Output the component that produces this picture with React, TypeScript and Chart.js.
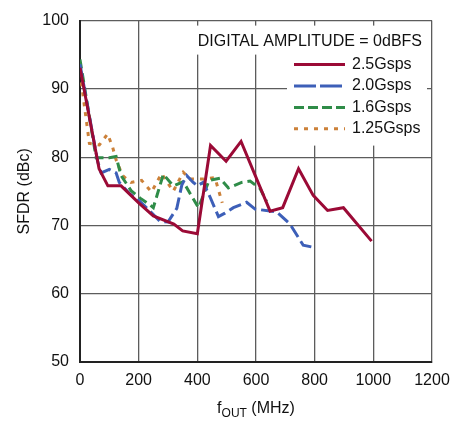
import React, { useEffect, useRef } from "react";
import { Chart, registerables } from "chart.js";

Chart.register(...registerables);

// ---- data ----
const seriesLabels = ["2.5Gsps", "2.0Gsps", "1.6Gsps", "1.25Gsps"];
const legendTitle = "DIGITAL AMPLITUDE = 0dBFS";

const fout25 = [0, 65, 95, 140, 200, 250, 320, 350, 400, 445, 498, 549, 648, 691, 745, 795, 844, 898, 994];
const sfdr25 = [93.1, 78.3, 75.8, 75.8, 73.3, 71.4, 70.2, 69.2, 68.8, 81.7, 79.4, 82.3, 72.1, 72.6, 78.3, 74.4, 72.2, 72.6, 67.7];

const fout20 = [0, 60, 72, 100, 123, 134, 168, 205, 250, 273, 300, 330, 347, 364, 386, 400, 420, 443, 472, 494, 523, 568, 597, 648, 670, 716, 761, 795];
const sfdr20 = [93.6, 79.4, 77.7, 78.2, 77.7, 76.3, 74.7, 73.5, 71.6, 70.6, 70.5, 72.5, 75.9, 77.3, 76.3, 75.8, 76.3, 74.2, 71.3, 71.8, 72.6, 73.4, 72.4, 72.1, 72.0, 70.2, 67.1, 66.8];

const fout16 = [0, 55, 100, 123, 140, 174, 205, 239, 250, 284, 318, 352, 404, 440, 477, 506, 551, 580, 614, 636];
const sfdr16 = [94.3, 79.9, 79.9, 80.1, 77.3, 75.1, 74.0, 73.0, 72.6, 77.5, 75.8, 76.4, 72.6, 76.6, 76.9, 75.5, 76.3, 76.5, 75.4, 73.5];

const fout125 = [0, 32, 66, 94, 111, 123, 145, 174, 210, 244, 278, 318, 352, 375, 420, 460, 485];
const sfdr125 = [92.4, 82.0, 81.8, 83.4, 81.5, 79.6, 77.3, 76.3, 76.6, 74.9, 77.6, 75.0, 77.8, 76.8, 76.8, 77.0, 73.3];

const xTicks = [0, 200, 400, 600, 800, 1000, 1200];
const yTicks = [50, 60, 70, 80, 90, 100];

const yTitle = "SFDR (dBc)";
const xTitleMain = "f";
const xTitleSub = "OUT";
const xTitleRest = " (MHz)";

// ---- styles ----
const colors = ["#9b0a36", "#3d5fb8", "#2f8c48", "#cc8139"];
const dashes: number[][] = [[], [13, 5], [9, 5], [4, 6]];
const legendDashes: number[][] = [[], [22, 4], [10, 4], [4, 6]];
const FONT = "'Liberation Sans', Arial, sans-serif";
const FS = 16;

const toPts = (xs: number[], ys: number[]) => xs.map((x, i) => ({ x, y: ys[i] }));

const overlayPlugin = {
  id: "overlay",
  beforeDatasetsDraw(chart: any) {
    const { ctx, chartArea } = chart;
    const r = chartArea.right;
    const t = chartArea.top;
    ctx.save();
    ctx.fillStyle = "#ffffff";
    ctx.fillRect(r - 240, t + 5, 235, 29);
    ctx.fillRect(r - 145, t + 33, 140, 92);
    ctx.fillStyle = "#111";
    ctx.font = `${FS}px ${FONT}`;
    ctx.textBaseline = "middle";
    ctx.textAlign = "right";
    ctx.fillText(legendTitle, r - 10, t + 21);
    const ds = chart.data.datasets;
    ds.forEach((d: any, i: number) => {
      const y = t + 44 + i * 21.4;
      ctx.strokeStyle = d.borderColor;
      ctx.lineWidth = 3;
      ctx.setLineDash(legendDashes[i]);
      ctx.beginPath();
      ctx.moveTo(r - 138, y);
      ctx.lineTo(r - 87, y);
      ctx.stroke();
      ctx.setLineDash([]);
      ctx.textAlign = "left";
      ctx.fillStyle = "#111";
      ctx.fillText(d.label, r - 80, y);
    });
    ctx.restore();
  },
  afterDraw(chart: any) {
    const { ctx, chartArea } = chart;
    ctx.save();
    ctx.fillStyle = "#111";
    ctx.textBaseline = "alphabetic";
    ctx.textAlign = "left";
    ctx.font = `${FS}px ${FONT}`;
    const w1 = ctx.measureText(xTitleMain).width;
    const w3 = ctx.measureText(xTitleRest).width;
    ctx.font = `12px ${FONT}`;
    const w2 = ctx.measureText(xTitleSub).width;
    const cx = (chartArea.left + chartArea.right) / 2;
    let x = cx - (w1 + w2 + w3) / 2;
    const base = chartArea.bottom + 51;
    ctx.font = `${FS}px ${FONT}`;
    ctx.fillText(xTitleMain, x, base);
    x += w1;
    ctx.font = `12px ${FONT}`;
    ctx.fillText(xTitleSub, x, base + 4);
    x += w2;
    ctx.font = `${FS}px ${FONT}`;
    ctx.fillText(xTitleRest, x, base);
    ctx.restore();
  },
};

export default function App() {
  const ref = useRef<HTMLCanvasElement | null>(null);
  useEffect(() => {
    if (!ref.current) return;
    const seriesX = [fout25, fout20, fout16, fout125];
    const seriesY = [sfdr25, sfdr20, sfdr16, sfdr125];
    const chart = new Chart(ref.current, {
      type: "line",
      data: {
        datasets: seriesLabels.map((label, i) => ({
          label,
          data: toPts(seriesX[i], seriesY[i]),
          borderColor: colors[i],
          backgroundColor: colors[i],
          borderWidth: 3,
          borderDash: dashes[i],
          pointRadius: 0,
          tension: 0,
          fill: false,
        })),
      },
      options: {
        responsive: false,
        animation: false,
        devicePixelRatio: 1,
        layout: { padding: { left: 0, right: 37, top: 10, bottom: 0 } },
        plugins: { legend: { display: false }, tooltip: { enabled: false } },
        scales: {
          x: {
            type: "linear",
            min: 0,
            max: 1200,
            afterBuildTicks: (s: any) => {
              s.ticks = xTicks.map((v) => ({ value: v }));
            },
            afterFit: (s: any) => {
              s.height = 59;
            },
            ticks: {
              font: { size: FS, family: FONT },
              color: "#111",
              padding: 9,
              maxRotation: 0,
              autoSkip: false,
              callback: (v: any) => String(v),
            },
            grid: { color: "#5c5c5c", lineWidth: 1.3, drawTicks: false },
            border: { color: "#222", width: 2 },
          },
          y: {
            type: "linear",
            min: 50,
            max: 100,
            afterBuildTicks: (s: any) => {
              s.ticks = yTicks.map((v) => ({ value: v }));
            },
            afterFit: (s: any) => {
              s.width = 80;
            },
            ticks: {
              font: { size: FS, family: FONT },
              color: "#111",
              padding: 11,
              autoSkip: false,
              callback: (v: any) => String(v),
            },
            grid: { color: "#5c5c5c", lineWidth: 1.3, drawTicks: false },
            border: { color: "#222", width: 2 },
            title: {
              display: true,
              text: yTitle,
              font: { size: FS, family: FONT },
              color: "#111",
              padding: { top: 15, bottom: 0 },
            },
          },
        },
      },
      plugins: [overlayPlugin],
    });
    return () => chart.destroy();
  }, []);
  return (
    <div style={{ position: "fixed", left: 0, top: 0, width: 469, height: 421, background: "#fff" }}>
      <canvas ref={ref} width={469} height={421} style={{ width: 469, height: 421, display: "block" }} />
    </div>
  );
}
